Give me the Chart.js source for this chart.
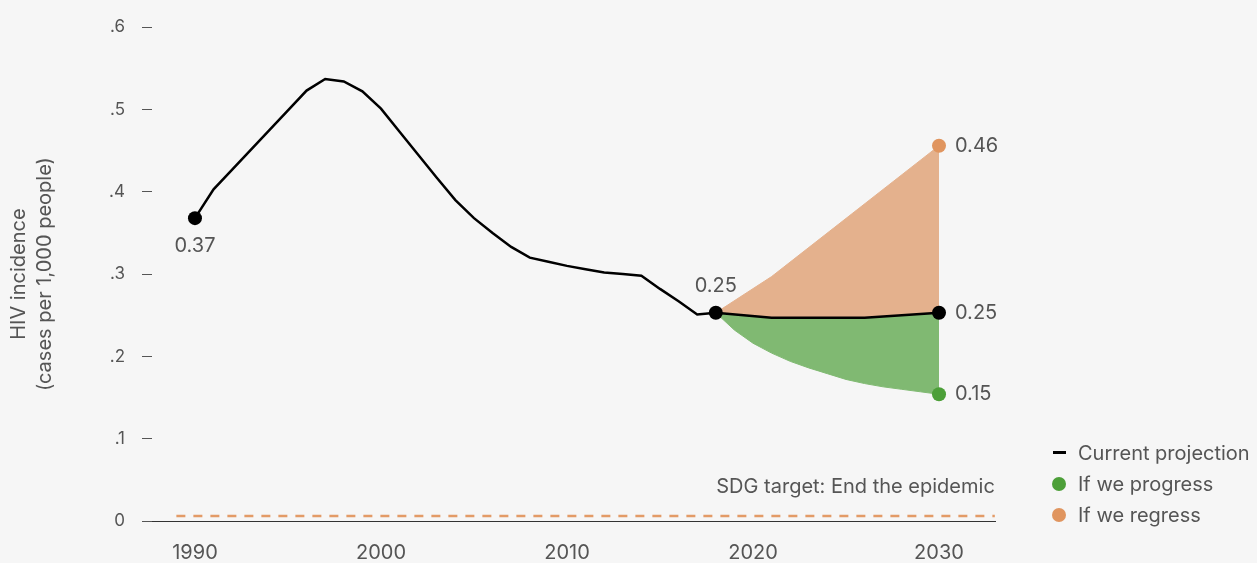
<!DOCTYPE html>
<html>
<head>
<meta charset="utf-8">
<script src="https://cdn.jsdelivr.net/npm/chart.js@4.4.0/dist/chart.umd.min.js"></script>
<style>
    html, body { margin: 0; padding: 0; background: #f6f6f6; }
    #wrap { position: relative; width: 1257px; height: 563px; }
    #legend {
        position: absolute; left: 1050px; top: 437px;
        font-family: Inter, sans-serif; font-size: 20px; color: #555;
    }
    .item { display: flex; align-items: center; height: 31px; white-space: nowrap; }
    .mark { width: 18px; margin-right: 10px; display: flex; justify-content: center; align-items: center; }
    .dash { width: 13px; height: 3px; background: #000; }
    .dot { width: 14px; height: 14px; border-radius: 50%; }
</style>
</head>
<body>
<div id="wrap">
    <canvas id="chart" width="1257" height="563"></canvas>
    <div id="legend">
        <div class="item"><span class="mark"><span class="dash"></span></span>Current projection</div>
        <div class="item"><span class="mark"><span class="dot" style="background:#4c9f38"></span></span>If we progress</div>
        <div class="item"><span class="mark"><span class="dot" style="background:#e0955f"></span></span>If we regress</div>
    </div>
</div>
<script>
// Data
const currentYears = [1990, 1991, 1992, 1993, 1994, 1995, 1996, 1997, 1998, 1999,
    2000, 2001, 2002, 2003, 2004, 2005, 2006, 2007, 2008, 2009,
    2010, 2011, 2012, 2013, 2014, 2015, 2016, 2017, 2018, 2021, 2026, 2030];
const currentValues = [0.368, 0.403, 0.427, 0.451, 0.475, 0.499, 0.523, 0.537, 0.534, 0.522,
    0.501, 0.473, 0.445, 0.417, 0.390, 0.368, 0.350, 0.333, 0.320, 0.315,
    0.310, 0.306, 0.302, 0.300, 0.298, 0.282, 0.267, 0.251, 0.253, 0.247, 0.247, 0.253];

const progressYears = [2018, 2019, 2020, 2021, 2022, 2023, 2024, 2025, 2026, 2027, 2028, 2029, 2030];
const progressValues = [0.253, 0.232, 0.216, 0.204, 0.194, 0.186, 0.179, 0.172, 0.167, 0.163, 0.160, 0.157, 0.154];

const regressYears = [2018, 2021, 2030];
const regressValues = [0.253, 0.297, 0.456];

const sdgYears = [1989, 2033];
const sdgValues = [0.006, 0.006];

const markedYears = [1990, 2018, 2030];
const xTickYears = [1990, 2000, 2010, 2020, 2030];
const yTickValues = [0, 0.1, 0.2, 0.3, 0.4, 0.5, 0.6];
const yTickLabels = ["0", ".1", ".2", ".3", ".4", ".5", ".6"];

const TEXT = "#555";
const FONT = "Inter, sans-serif";
Chart.defaults.font.family = FONT;

const toPoints = (xs, ys) => xs.map((x, i) => ({ x: x, y: ys[i] }));
const lastOnly = (ctx) => ctx.dataIndex === ctx.dataset.data.length - 1 ? 7 : 0;

// which points get a value label and where it goes
const valueLabels = [
    { dataset: 0, year: 1990, pos: "below" },
    { dataset: 0, year: 2018, pos: "above" },
    { dataset: 0, year: 2030, pos: "right" },
    { dataset: 1, year: 2030, pos: "right" },
    { dataset: 2, year: 2030, pos: "right" }
];

const labelPlugin = {
    id: "labels",
    afterDatasetsDraw(chart) {
        const ctx = chart.ctx;
        ctx.save();
        ctx.fillStyle = TEXT;
        ctx.font = "20px " + FONT;
        valueLabels.forEach(l => {
            const ds = chart.data.datasets[l.dataset];
            const idx = ds.data.findIndex(p => p.x === l.year);
            const el = chart.getDatasetMeta(l.dataset).data[idx];
            const txt = ds.data[idx].y.toFixed(2);
            if (l.pos === "below") {
                ctx.textAlign = "center"; ctx.textBaseline = "middle";
                ctx.fillText(txt, el.x, el.y + 28);
            } else if (l.pos === "above") {
                ctx.textAlign = "center"; ctx.textBaseline = "middle";
                ctx.fillText(txt, el.x, el.y - 27);
            } else {
                ctx.textAlign = "left"; ctx.textBaseline = "middle";
                ctx.fillText(txt, el.x + 16, el.y);
            }
        });

        // SDG target caption above the dashed line
        const xs = chart.scales.x, ys = chart.scales.y;
        ctx.textAlign = "right"; ctx.textBaseline = "middle";
        ctx.fillText("SDG target: End the epidemic",
            xs.getPixelForValue(sdgYears[1]), ys.getPixelForValue(sdgValues[1]) - 29);
        ctx.restore();
    }
};

new Chart(document.getElementById("chart"), {
    type: "line",
    data: {
        datasets: [
            {
                label: "Current projection",
                data: toPoints(currentYears, currentValues),
                borderColor: "#000",
                borderWidth: 2.5,
                tension: 0,
                fill: false,
                pointRadius: ctx => markedYears.includes(ctx.raw && ctx.raw.x) ? 7 : 0,
                pointBackgroundColor: "#000",
                pointBorderWidth: 0
            },
            {
                label: "If we regress",
                data: toPoints(regressYears, regressValues),
                borderColor: "#e4b18d",
                borderWidth: 1,
                backgroundColor: "#e4b18d",
                fill: { target: 0 },
                tension: 0,
                pointRadius: lastOnly,
                pointBackgroundColor: "#e0955f",
                pointBorderWidth: 0
            },
            {
                label: "If we progress",
                data: toPoints(progressYears, progressValues),
                borderColor: "#80b972",
                borderWidth: 1,
                backgroundColor: "#80b972",
                fill: { target: 0 },
                tension: 0,
                pointRadius: lastOnly,
                pointBackgroundColor: "#4c9f38",
                pointBorderWidth: 0
            },
            {
                label: "SDG target",
                data: toPoints(sdgYears, sdgValues),
                borderColor: "#e39b67",
                borderWidth: 2.5,
                borderDash: [9, 8],
                pointRadius: 0,
                fill: false
            }
        ]
    },
    options: {
        responsive: false,
        animation: false,
        events: [],
        layout: { padding: { top: 23, right: 262, bottom: 0, left: 0 } },
        scales: {
            x: {
                type: "linear",
                min: 1987.69,
                max: 2033.01,
                grid: { display: false, drawTicks: false },
                border: { display: true, color: "#333", width: 1 },
                ticks: { padding: 20, color: TEXT, font: { size: 20 }, callback: v => String(v) },
                afterBuildTicks: s => { s.ticks = xTickYears.map(v => ({ value: v })); },
                afterFit: s => { s.height = 42; }
            },
            y: {
                min: 0,
                max: 0.6,
                border: { display: false },
                grid: { drawOnChartArea: false, tickLength: 10, color: "#555", lineWidth: 1 },
                ticks: { padding: 17, color: TEXT, font: { size: 17 }, callback: (v, i) => yTickLabels[i] },
                afterBuildTicks: s => { s.ticks = yTickValues.map(v => ({ value: v })); },
                afterFit: s => { s.width = 152; },
                title: {
                    display: true,
                    text: ["HIV incidence", "(cases per 1,000 people)"],
                    color: TEXT,
                    font: { size: 20, lineHeight: 1.3 },
                    padding: { top: 6, bottom: 0 }
                }
            }
        },
        plugins: {
            legend: { display: false },
            tooltip: { enabled: false }
        }
    },
    plugins: [labelPlugin]
});
</script>
</body>
</html>
